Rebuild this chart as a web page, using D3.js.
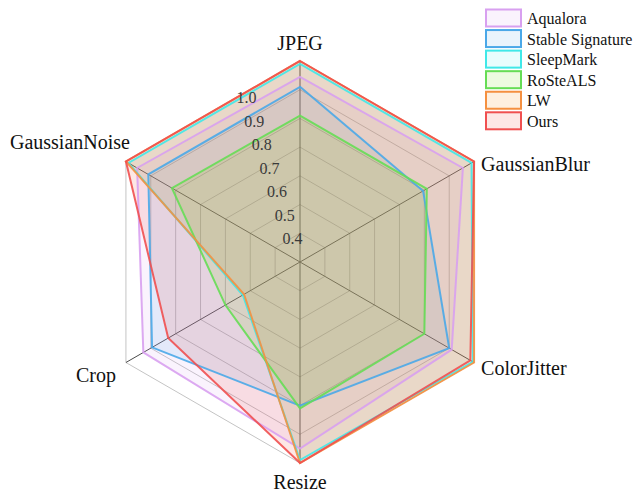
<!DOCTYPE html>
<html>
<head>
<meta charset="utf-8">
<script src="https://cdn.jsdelivr.net/npm/d3@7"></script>
<style>
  body { margin: 0; background: #fff; }
  svg { display: block; }
  text { font-family: "Liberation Serif", "Times New Roman", serif; }
</style>
</head>
<body>
<svg id="chart" width="636" height="492"></svg>
<script>
// Attack categories, clockwise from the top
const categories = ["JPEG", "GaussianBlur", "ColorJitter", "Resize", "Crop", "GaussianNoise"];
const seriesNames = ["Aqualora", "Stable Signature", "SleepMark", "RoSteALS", "LW", "Ours"];

// Bit accuracy per attack for each method
const aqualora        = [0.945, 0.955, 0.910, 0.950, 0.930, 0.955];
const stableSignature = [0.910, 0.795, 0.900, 0.800, 0.895, 0.910];
const sleepMark       = [0.990, 0.990, 0.995, 0.990, 0.530, 0.990];
const roSteALS        = [0.810, 0.810, 0.800, 0.810, 0.600, 0.815];
const lw              = [1.000, 1.000, 1.000, 1.000, 0.525, 1.000];
const ours            = [1.000, 1.000, 0.985, 1.000, 0.830, 1.000];

const radialTicks = [0.4, 0.5, 0.6, 0.7, 0.8, 0.9, 1.0];
const radialDomain = [0.3, 1.0];

const seriesValues = [aqualora, stableSignature, sleepMark, roSteALS, lw, ours];
const lineColors = ["#d8a0f0", "#4aa8e8", "#40e8e8", "#66dd55", "#f59040", "#f05050"];
const fillColors = ["#d8a0f0", "#4aa8e8", "#40ebeb", "#6edc00", "#f58200", "#f03c28"];

const svg = d3.select("#chart");
const cx = 300, cy = 262, R = 201;
const g = svg.append("g").attr("transform", `translate(${cx},${cy})`);

const rScale = d3.scaleLinear().domain(radialDomain).range([0, R]);
const angle = d3.scalePoint().domain(categories).range([0, 2 * Math.PI * 5 / 6]);

const radial = d3.lineRadial()
  .angle(d => angle(d.cat))
  .radius(d => rScale(d.v))
  .curve(d3.curveLinearClosed);

const polar = (cat, r) => {
  const a = angle(cat);
  return [r * Math.sin(a), -r * Math.cos(a)];
};

const seriesPoints = seriesValues.map(vals => categories.map((c, k) => ({ cat: c, v: vals[k] })));

// hexagonal grid rings (outermost ring is the frame)
g.append("g").selectAll("path")
  .data(radialTicks)
  .join("path")
  .attr("d", t => radial(categories.map(c => ({ cat: c, v: t }))))
  .attr("fill", "none")
  .attr("stroke", "#c4c4c4")
  .attr("stroke-width", 1);

// spokes
g.append("g").selectAll("line")
  .data(categories)
  .join("line")
  .attr("x1", 0).attr("y1", 0)
  .attr("x2", c => polar(c, R)[0])
  .attr("y2", c => polar(c, R)[1])
  .attr("stroke", "#4a4a4a")
  .attr("stroke-width", 1);

// translucent areas first, outlines on top of all of them
g.append("g").selectAll("path")
  .data(seriesPoints)
  .join("path")
  .attr("d", radial)
  .attr("fill", (d, i) => fillColors[i])
  .attr("fill-opacity", 0.12)
  .attr("stroke", "none");

g.append("g").selectAll("path")
  .data(seriesPoints)
  .join("path")
  .attr("d", radial)
  .attr("fill", "none")
  .attr("stroke", (d, i) => lineColors[i])
  .attr("stroke-opacity", 0.9)
  .attr("stroke-width", 2)
  .attr("stroke-linejoin", "miter");

// radial tick labels, set along a ray just left of the JPEG spoke
const tickAngle = -18 * Math.PI / 180;
g.append("g").selectAll("text")
  .data(radialTicks)
  .join("text")
  .attr("x", t => 0.86 * rScale(t) * Math.sin(tickAngle))
  .attr("y", t => -0.86 * rScale(t) * Math.cos(tickAngle))
  .attr("dy", "0.35em")
  .attr("text-anchor", "middle")
  .attr("font-size", 16)
  .attr("fill", "#3a3a3a")
  .text(t => d3.format(".1f")(t));

// category labels around the frame
const labelLayout = {
  "JPEG":          { dx: 0,   dy: -11,  anchor: "middle" },
  "GaussianBlur":  { dx: 7,   dy: 9,    anchor: "start" },
  "ColorJitter":   { dx: 7,   dy: 12.5, anchor: "start" },
  "Resize":        { dx: 0,   dy: 25.5, anchor: "middle" },
  "Crop":          { dx: -10, dy: 19.5, anchor: "end" },
  "GaussianNoise": { dx: 4,   dy: -13,  anchor: "end" }
};
g.append("g").selectAll("text")
  .data(categories)
  .join("text")
  .attr("x", c => polar(c, R)[0] + labelLayout[c].dx)
  .attr("y", c => polar(c, R)[1] + labelLayout[c].dy)
  .attr("text-anchor", c => labelLayout[c].anchor)
  .attr("font-size", 20)
  .attr("fill", "#111")
  .text(c => c);

// legend
const legend = svg.append("g").attr("transform", "translate(486,18)");
const rowH = 20.56;
const rows = legend.selectAll("g")
  .data(seriesNames)
  .join("g")
  .attr("transform", (d, i) => `translate(0,${i * rowH})`);
rows.append("rect")
  .attr("x", 0).attr("y", -8.5)
  .attr("width", 35).attr("height", 17)
  .attr("fill", (d, i) => fillColors[i])
  .attr("fill-opacity", 0.12)
  .attr("stroke", (d, i) => lineColors[i])
  .attr("stroke-width", 2);
rows.append("text")
  .attr("x", 41).attr("y", 6)
  .attr("font-size", 16)
  .attr("fill", "#111")
  .text(d => d);
</script>
</body>
</html>
